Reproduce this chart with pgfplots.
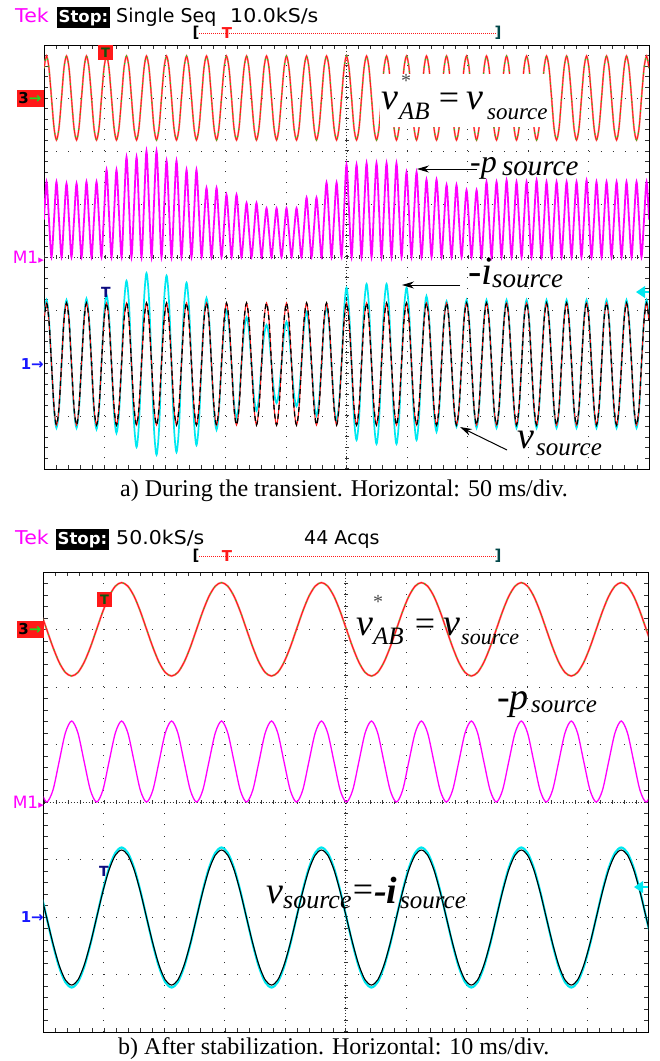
\documentclass[border=0pt]{standalone}
\usepackage{fontspec}
\setmainfont{Liberation Serif}
\newfontfamily\scopefont{DejaVu Sans}
\usepackage{graphicx}
\usepackage{pgfplots}
\pgfplotsset{compat=1.18}
\usepackage{pgfplotstable}
\usetikzlibrary{arrows.meta}

\definecolor{scred}{RGB}{255,25,25}
\definecolor{scpink}{RGB}{255,140,140}
\definecolor{scgreen}{RGB}{30,215,30}
\definecolor{scmag}{RGB}{255,0,255}
\definecolor{sccyan}{RGB}{0,232,240}
\definecolor{scblue}{RGB}{25,25,255}

% top record: t [ms], s = v_AB* = v_source (normalised), i = -i_source, p = -p_source
\pgfplotstableread{
t s i p
0.0 .71 .71 .50
2.1 1 1.00 1.00
4.1 .71 .71 .50
6.2 0 0 0
8.3 -.71 -.71 .50
10.3 -1 -1.00 1.00
12.4 -.71 -.71 .50
14.5 0 0 0
16.5 .71 .71 .49
18.6 1 1.00 .98
20.7 .71 .71 .49
22.7 0 0 0
24.8 -.71 -.71 .49
26.9 -1 -1.00 .98
28.9 -.71 -.71 .49
31.0 0 0 0
33.1 .71 .72 .50
35.1 1 1.02 1.00
37.2 .71 .72 .50
39.3 0 0 0
41.3 -.71 -.72 .50
43.4 -1 -1.02 1.00
45.5 -.71 -.72 .50
47.5 0 0 0
49.6 .71 .77 .58
51.7 1 1.08 1.16
53.7 .71 .77 .58
55.8 0 0 0
57.9 -.71 -.77 .58
59.9 -1 -1.08 1.16
62.0 -.71 -.77 .58
64.1 0 0 0
66.1 .71 .92 .67
68.2 1 1.30 1.33
70.3 .71 .92 .67
72.3 0 0 0
74.4 -.71 -.92 .67
76.5 -1 -1.30 1.33
78.5 -.71 -.92 .67
80.6 0 0 0
82.7 .71 1.01 .71
84.7 1 1.42 1.41
86.8 .71 1.01 .71
88.9 0 0 0
90.9 -.71 -1.01 .71
93.0 -1 -1.42 1.41
95.1 -.71 -1.01 .71
97.1 0 0 0
99.2 .71 .98 .64
101.3 1 1.38 1.28
103.3 .71 .98 .64
105.4 0 0 0
107.4 -.71 -.98 .64
109.5 -1 -1.38 1.28
111.6 -.71 -.98 .64
113.6 0 0 0
115.7 .71 .90 .58
117.8 1 1.27 1.16
119.8 .71 .90 .58
121.9 0 0 0
124.0 -.71 -.90 .58
126.0 -1 -1.27 1.16
128.1 -.71 -.90 .58
130.2 0 0 0
132.2 .71 .73 .46
134.3 1 1.03 .92
136.4 .71 .73 .46
138.4 0 0 0
140.5 -.71 -.73 .46
142.6 -1 -1.03 .92
144.6 -.71 -.73 .46
146.7 0 0 0
148.8 .71 .60 .42
150.8 1 .84 .83
152.9 .71 .60 .42
155.0 0 0 0
157.0 -.71 -.60 .42
159.1 -1 -.84 .83
161.2 -.71 -.60 .42
163.2 0 0 0
165.3 .71 .52 .36
167.4 1 .73 .72
169.4 .71 .52 .36
171.5 0 0 0
173.6 -.71 -.52 .36
175.6 -1 -.73 .72
177.7 -.71 -.52 .36
179.8 0 0 0
181.8 .71 .43 .33
183.9 1 .61 .65
186.0 .71 .43 .33
188.0 0 0 0
190.1 -.71 -.43 .33
192.2 -1 -.61 .65
194.2 -.71 -.43 .33
196.3 0 0 0
198.4 .71 .47 .33
200.4 1 .66 .65
202.5 .71 .47 .33
204.6 0 0 0
206.6 -.71 -.47 .33
208.7 -1 -.66 .65
210.8 -.71 -.47 .33
212.8 0 0 0
214.9 .71 .58 .40
217.0 1 .81 .79
219.0 .71 .58 .40
221.1 0 0 0
223.2 -.71 -.58 .40
225.2 -1 -.81 .79
227.3 -.71 -.58 .40
229.4 0 0 0
231.4 .71 .63 .50
233.5 1 .89 .99
235.6 .71 .63 .50
237.6 0 0 0
239.7 -.71 -.63 .50
241.8 -1 -.89 .99
243.8 -.71 -.63 .50
245.9 0 0 0
248.0 .71 .84 .62
250.0 1 1.19 1.23
252.1 .71 .84 .62
254.2 0 0 0
256.2 -.71 -.84 .62
258.3 -1 -1.19 1.23
260.4 -.71 -.84 .62
262.4 0 0 0
264.5 .71 .89 .63
266.6 1 1.25 1.25
268.6 .71 .89 .63
270.7 0 0 0
272.7 -.71 -.89 .63
274.8 -1 -1.25 1.25
276.9 -.71 -.89 .63
278.9 0 0 0
281.0 .71 .89 .63
283.1 1 1.25 1.25
285.1 .71 .89 .63
287.2 0 0 0
289.3 -.71 -.89 .63
291.3 -1 -1.25 1.25
293.4 -.71 -.89 .63
295.5 0 0 0
297.5 .71 .84 .57
299.6 1 1.19 1.13
301.7 .71 .84 .57
303.7 0 0 0
305.8 -.71 -.84 .57
307.9 -1 -1.19 1.13
309.9 -.71 -.84 .57
312.0 0 0 0
314.1 .71 .75 .52
316.1 1 1.06 1.03
318.2 .71 .75 .52
320.3 0 0 0
322.3 -.71 -.75 .52
324.4 -1 -1.06 1.03
326.5 -.71 -.75 .52
328.5 0 0 0
330.6 .71 .70 .48
332.7 1 .98 .96
334.7 .71 .70 .48
336.8 0 0 0
338.9 -.71 -.70 .48
340.9 -1 -.98 .96
343.0 -.71 -.70 .48
345.1 0 0 0
347.1 .71 .71 .45
349.2 1 1.00 .89
351.3 .71 .71 .45
353.3 0 0 0
355.4 -.71 -.71 .45
357.5 -1 -1.00 .89
359.5 -.71 -.71 .45
361.6 0 0 0
363.7 .71 .71 .50
365.7 1 1.00 1.00
367.8 .71 .71 .50
369.9 0 0 0
371.9 -.71 -.71 .50
374.0 -1 -1.00 1.00
376.1 -.71 -.71 .50
378.1 0 0 0
380.2 .71 .71 .50
382.3 1 1.00 1.02
384.3 .71 .71 .51
386.4 0 0 0
388.5 -.71 -.71 .50
390.5 -1 -1.00 1.00
392.6 -.71 -.71 .50
394.7 0 0 0
396.7 .71 .71 .50
398.8 1 1.00 1.00
400.9 .71 .71 .50
402.9 0 0 0
405.0 -.71 -.71 .51
407.1 -1 -1.00 1.02
409.1 -.71 -.71 .51
411.2 0 0 0
413.3 .71 .71 .50
415.3 1 1.00 1.00
417.4 .71 .71 .50
419.5 0 0 0
421.5 -.71 -.71 .50
423.6 -1 -1.00 1.00
425.7 -.71 -.71 .50
427.7 0 0 0
429.8 .71 .71 .50
431.9 1 1.00 1.00
433.9 .71 .71 .50
436.0 0 0 0
438.0 -.71 -.71 .50
440.1 -1 -1.00 1.00
442.2 -.71 -.71 .50
444.2 0 0 0
446.3 .71 .71 .51
448.4 1 1.00 1.02
450.4 .71 .71 .51
452.5 0 0 0
454.6 -.71 -.71 .50
456.6 -1 -1.00 1.00
458.7 -.71 -.71 .50
460.8 0 0 0
462.8 .71 .71 .50
464.9 1 1.00 1.00
467.0 .71 .71 .50
469.0 0 0 0
471.1 -.71 -.71 .50
473.2 -1 -1.00 1.00
475.2 -.71 -.71 .50
477.3 0 0 0
479.4 .71 .71 .50
481.4 1 1.00 1.00
483.5 .71 .71 .50
485.6 0 0 0
487.6 -.71 -.71 .50
489.7 -1 -1.00 1.00
491.8 -.71 -.71 .50
493.8 0 0 0
495.9 .71 .71 .50
498.0 1 1.00 1.00
500.0 .71 .71 .50
}\toptable

% bottom record: t [ms], v = v_AB* = v_source = -i_source (normalised), p = -p_source
\pgfplotstableread{
t v p
-0.51 .383 .146
0.52 0 0
1.56 -.383 .146
2.59 -.707 .5
3.62 -.924 .854
4.66 -1 1
5.69 -.924 .854
6.72 -.707 .5
7.76 -.383 .146
8.79 0 0
9.82 .383 .146
10.85 .707 .5
11.89 .924 .854
12.92 1 1
13.95 .924 .854
14.99 .707 .5
16.02 .383 .146
17.05 0 0
18.09 -.383 .146
19.12 -.707 .5
20.15 -.924 .854
21.19 -1 1
22.22 -.924 .854
23.25 -.707 .5
24.29 -.383 .146
25.32 0 0
26.35 .383 .146
27.38 .707 .5
28.42 .924 .854
29.45 1 1
30.48 .924 .854
31.52 .707 .5
32.55 .383 .146
33.58 0 0
34.62 -.383 .146
35.65 -.707 .5
36.68 -.924 .854
37.72 -1 1
38.75 -.924 .854
39.78 -.707 .5
40.82 -.383 .146
41.85 0 0
42.88 .383 .146
43.91 .707 .5
44.95 .924 .854
45.98 1 1
47.01 .924 .854
48.05 .707 .5
49.08 .383 .146
50.11 0 0
51.15 -.383 .146
52.18 -.707 .5
53.21 -.924 .854
54.25 -1 1
55.28 -.924 .854
56.31 -.707 .5
57.35 -.383 .146
58.38 0 0
59.41 .383 .146
60.44 .707 .5
61.48 .924 .854
62.51 1 1
63.54 .924 .854
64.58 .707 .5
65.61 .383 .146
66.64 0 0
67.68 -.383 .146
68.71 -.707 .5
69.74 -.924 .854
70.78 -1 1
71.81 -.924 .854
72.84 -.707 .5
73.88 -.383 .146
74.91 0 0
75.94 .383 .146
76.97 .707 .5
78.01 .924 .854
79.04 1 1
80.07 .924 .854
81.11 .707 .5
82.14 .383 .146
83.17 0 0
84.21 -.383 .146
85.24 -.707 .5
86.27 -.924 .854
87.31 -1 1
88.34 -.924 .854
89.37 -.707 .5
90.41 -.383 .146
91.44 0 0
92.47 .383 .146
93.50 .707 .5
94.54 .924 .854
95.57 1 1
96.60 .924 .854
97.64 .707 .5
98.67 .383 .146
99.70 0 0
100.74 -.383 .146
}\bottable

\pgfplotsset{
  scopebase/.style={scale only axis, anchor=south west, clip=true},
  scopegrid/.style={scopebase,
    xmin=0, xmax=10, ymin=-4, ymax=4,
    xtick={0,...,10}, ytick={-4,...,4},
    minor x tick num=4, minor y tick num=4,
    xticklabels={}, yticklabels={},
    tick align=inside, major tick length=4pt, minor tick length=4pt,
    tick style={black!80, line width=0.7pt},
    xmajorgrids, ymajorgrids,
    axis line style={black, line width=1pt}},
  chan/.style={scopebase, hide axis},
}

\newcommand{\hdr}{\scopefont\fontsize{19}{19}\selectfont}
\newcommand{\hdrw}[1]{\scalebox{1.08}[1]{\hdr #1}}
\newcommand{\stopbox}{\scopefont\bfseries\fontsize{16.5}{16.5}\selectfont Stop:}
\newcommand{\labv}{\fontsize{38}{38}\selectfont\itshape}
\newcommand{\labeq}{\fontsize{36}{36}\selectfont\upshape}

\begin{document}
\begin{tikzpicture}[x=1pt,y=1pt]
\useasboundingbox (0,0) rectangle (660,-1061);

%================ TOP PANEL =================
\begin{axis}[scopegrid, at={(44pt,-469pt)}, width=605pt, height=424pt,
  major x grid style={black!80, line width=1pt, dash pattern=on 1pt off 9.6pt},
  major y grid style={black!80, line width=1pt, dash pattern=on 1pt off 11.1pt}]
  \draw[black!80, line width=0.8pt, dash pattern=on 0.8pt off 2.2pt] (axis cs:0,0) -- (axis cs:10,0);
  \draw[black!80, line width=4pt, dash pattern=on 0.9pt off 11.2pt] (axis cs:0,0) -- (axis cs:10,0);
  \draw[black!80, line width=0.8pt, dash pattern=on 0.8pt off 2.2pt] (axis cs:5,-4) -- (axis cs:5,4);
  \draw[black!80, line width=4pt, dash pattern=on 0.9pt off 9.7pt] (axis cs:5,-4) -- (axis cs:5,4);
\end{axis}
% channel 3 : v_AB* (red) with v_source reference (green)
\begin{axis}[chan, at={(44pt,-469pt)}, width=605pt, height=424pt,
  xmin=0, xmax=500, ymin=-8.833, ymax=1.262]
  \addplot[scpink, line width=1.8pt, smooth] table[x=t, y=s] {\toptable};
  \addplot[scred, line width=0.9pt, smooth] table[x=t, y=s] {\toptable};
  \addplot[scgreen, line width=1pt, smooth, dash pattern=on 1.5pt off 6pt] table[x=t, y=s] {\toptable};
\end{axis}
% math : -p_source
\begin{axis}[chan, at={(44pt,-469pt)}, width=605pt, height=424pt,
  xmin=0, xmax=500, ymin=-2.827, ymax=2.827]
  \addplot[scmag, line width=1.8pt, smooth] table[x=t, y=p] {\toptable};
\end{axis}
% -i_source (cyan)
\begin{axis}[chan, at={(44pt,-469pt)}, width=605pt, height=424pt,
  xmin=0, xmax=500, ymin=-1.641, ymax=4.984]
  \addplot[sccyan, line width=1.7pt, smooth] table[x=t, y=i] {\toptable};
\end{axis}
% channel 1 : v_source (black) with v_AB* (red)
\begin{axis}[chan, at={(44pt,-469pt)}, width=605pt, height=424pt,
  xmin=0, xmax=500, ymin=-1.721, ymax=5.230]
  \addplot[scred, line width=1.1pt, smooth] table[x=t, y=s] {\toptable};
  \addplot[black, line width=1.3pt, smooth, dash pattern=on 5pt off 4pt] table[x=t, y=s] {\toptable};
\end{axis}

% header top
\node[anchor=base west, inner sep=0, text=scmag] at (15,-22) {\hdrw{Tek}};
\node[anchor=base west, fill=black, text=white, inner xsep=1.5pt, inner ysep=2.5pt] at (57,-22) {\stopbox};
\node[anchor=base west, inner sep=0] at (116,-22) {\hdr Single Seq};
\node[anchor=base west, inner sep=0] at (230,-22) {\hdrw{10.0kS/s}};
\draw[scred, line width=0.8pt, dash pattern=on 1pt off 1pt] (199,-33) -- (496,-33);
\node[inner sep=0] at (196,-33) {\scopefont\bfseries\fontsize{15}{15}\selectfont [};
\node[inner sep=0, text=scred] at (227,-33) {\scopefont\bfseries\fontsize{15}{15}\selectfont T};
\node[inner sep=0, text=black!70!sccyan] at (498,-33) {\scopefont\bfseries\fontsize{15}{15}\selectfont ]};

% markers top
\node[fill=scred, text=scgreen!40!black, inner sep=0, minimum size=15pt] at (105.5,-52.5) {\scopefont\bfseries\fontsize{13}{13}\selectfont T};
\node[fill=scred, inner sep=0, minimum width=27pt, minimum height=17pt] at (30,-98) {\scopefont\bfseries\fontsize{15}{15}\selectfont 3\textcolor{scgreen}{→}};
\node[anchor=east, inner sep=0, text=scmag] at (44,-257) {\scopefont\fontsize{17}{17}\selectfont M1\fontsize{11}{11}\selectfont▸};
\node[anchor=east, inner sep=0, text=scblue] at (44,-364) {\scopefont\bfseries\fontsize{15}{15}\selectfont 1→};
\node[inner sep=0, text=scblue!50!black] at (106,-292) {\scopefont\bfseries\fontsize{14}{14}\selectfont T};
\fill[sccyan] (636,-292) -- (645,-286) -- (645,-298) -- cycle;
\draw[sccyan, line width=2pt] (644,-292) -- (649,-292);

% labels top (the scope label box hides the trace behind it)
\fill[white] (380,-74) rectangle (549,-127);
\node[anchor=base west, inner sep=0] at (381,-109) {\labv v};
\node[anchor=base west, inner sep=0] at (399,-119) {\fontsize{25}{25}\selectfont\itshape AB};
\node[inner sep=0] at (449,-101) {\labeq =};
\node[anchor=base west, inner sep=0] at (466,-109) {\labv v};
\node[anchor=base west, inner sep=0] at (487,-119) {\fontsize{23}{23}\selectfont\itshape source};
\node[inner sep=0, text=black!70] at (406,-81) {\fontsize{20}{20}\selectfont *};
\node[anchor=base west, inner sep=0] at (470,-172) {\fontsize{32}{32}\selectfont\itshape -p};
\node[anchor=base west, inner sep=0] at (502,-175) {\fontsize{29}{29}\selectfont\itshape source};
\draw[-{Stealth[length=12pt,width=7pt]}, line width=1pt] (477,-169) -- (417,-169);
\node[anchor=base west, inner sep=0] at (468,-284) {\fontsize{40}{40}\selectfont\itshape -i};
\node[anchor=base west, inner sep=0] at (492,-287) {\fontsize{27}{27}\selectfont\itshape source};
\draw[-{Stealth[length=12pt,width=7pt]}, line width=1pt] (460,-285) -- (402,-285);
\node[anchor=base west, inner sep=0] at (517,-448) {\fontsize{38}{38}\selectfont\itshape v};
\node[anchor=base west, inner sep=0] at (536,-455) {\fontsize{25}{25}\selectfont\itshape source};
\draw[-{Stealth[length=12pt,width=7pt]}, line width=1pt] (507,-450) -- (460,-427);

% caption a
\node[anchor=base west, inner sep=0] at (120,-496) {\fontsize{24}{24}\selectfont a) During the transient. Horizontal: 50 ms/div.};

%================ BOTTOM PANEL =================
\begin{axis}[scopegrid, at={(43.5pt,-1032pt)}, width=604.5pt, height=460pt,
  major x grid style={black!80, line width=1pt, dash pattern=on 1pt off 10.5pt},
  major y grid style={black!80, line width=1pt, dash pattern=on 1pt off 11.09pt}]
  \draw[black!80, line width=0.8pt, dash pattern=on 0.8pt off 2.2pt] (axis cs:0,0) -- (axis cs:10,0);
  \draw[black!80, line width=4pt, dash pattern=on 0.9pt off 11.19pt] (axis cs:0,0) -- (axis cs:10,0);
  \draw[black!80, line width=0.8pt, dash pattern=on 0.8pt off 2.2pt] (axis cs:5,-4) -- (axis cs:5,4);
  \draw[black!80, line width=4pt, dash pattern=on 0.9pt off 10.6pt] (axis cs:5,-4) -- (axis cs:5,4);
\end{axis}
\begin{axis}[chan, at={(43.5pt,-1032pt)}, width=604.5pt, height=460pt,
  xmin=0, xmax=100, ymin=-8.623, ymax=1.227]
  \addplot[scpink, line width=2pt, smooth] table[x=t, y=v] {\bottable};
  \addplot[scred, line width=1pt, smooth] table[x=t, y=v] {\bottable};
  \addplot[scgreen, line width=1pt, smooth, dash pattern=on 1pt off 7pt] table[x=t, y=v] {\bottable};
\end{axis}
\begin{axis}[chan, at={(43.5pt,-1032pt)}, width=604.5pt, height=460pt,
  xmin=0, xmax=100, ymin=-2.840, ymax=2.840]
  \addplot[scmag, line width=1.3pt, smooth] table[x=t, y=p] {\bottable};
\end{axis}
\begin{axis}[chan, at={(43.5pt,-1032pt)}, width=604.5pt, height=460pt,
  xmin=0, xmax=100, ymin=-1.636, ymax=4.936]
  \addplot[sccyan, line width=2.2pt, smooth] table[x=t, y=v] {\bottable};
\end{axis}
\begin{axis}[chan, at={(43.5pt,-1032pt)}, width=604.5pt, height=460pt,
  xmin=0, xmax=100, ymin=-1.696, ymax=5.119]
  \addplot[black, line width=1.1pt, smooth] table[x=t, y=v] {\bottable};
\end{axis}

% header bottom
\node[anchor=base west, inner sep=0, text=scmag] at (15,-544) {\hdrw{Tek}};
\node[anchor=base west, fill=black, text=white, inner xsep=1.5pt, inner ysep=2.5pt] at (56,-544) {\stopbox};
\node[anchor=base west, inner sep=0] at (116,-544) {\hdrw{50.0kS/s}};
\node[anchor=base west, inner sep=0] at (304,-544) {\hdr 44 Acqs};
\draw[scred, line width=0.8pt, dash pattern=on 1pt off 1pt] (199,-556) -- (496,-556);
\node[inner sep=0] at (196,-556) {\scopefont\bfseries\fontsize{15}{15}\selectfont [};
\node[inner sep=0, text=scred] at (227,-556) {\scopefont\bfseries\fontsize{15}{15}\selectfont T};
\node[inner sep=0, text=black!70!sccyan] at (498,-556) {\scopefont\bfseries\fontsize{15}{15}\selectfont ]};

% markers bottom
\node[fill=scred, text=scgreen!40!black, inner sep=0, minimum size=15pt] at (104.5,-599.5) {\scopefont\bfseries\fontsize{13}{13}\selectfont T};
\node[fill=scred, inner sep=0, minimum width=27pt, minimum height=17pt] at (30,-629) {\scopefont\bfseries\fontsize{15}{15}\selectfont 3\textcolor{scgreen}{→}};
\node[anchor=east, inner sep=0, text=scmag] at (44,-802) {\scopefont\fontsize{17}{17}\selectfont M1\fontsize{11}{11}\selectfont▸};
\node[anchor=east, inner sep=0, text=scblue] at (44,-917) {\scopefont\bfseries\fontsize{15}{15}\selectfont 1→};
\node[inner sep=0, text=scblue!50!black] at (104,-871) {\scopefont\bfseries\fontsize{14}{14}\selectfont T};
\fill[sccyan] (634,-887) -- (643,-881) -- (643,-893) -- cycle;
\draw[sccyan, line width=2pt] (642,-887) -- (648,-887);

% labels bottom
\node[anchor=base west, inner sep=0] at (356,-635) {\labv v};
\node[anchor=base west, inner sep=0] at (373,-644) {\fontsize{25}{25}\selectfont\itshape AB};
\node[inner sep=0] at (425,-627) {\labeq =};
\node[anchor=base west, inner sep=0] at (443,-635) {\labv v};
\node[anchor=base west, inner sep=0] at (461,-644) {\fontsize{22}{22}\selectfont\itshape source};
\node[inner sep=0, text=black!70] at (378,-602) {\fontsize{20}{20}\selectfont *};
\node[anchor=base west, inner sep=0] at (497,-709) {\fontsize{38}{38}\selectfont\itshape -p};
\node[anchor=base west, inner sep=0] at (531,-712) {\fontsize{25}{25}\selectfont\itshape source};
\node[anchor=base west, inner sep=0] at (266,-903) {\fontsize{38}{38}\selectfont\itshape v};
\node[anchor=base west, inner sep=0] at (283,-908) {\fontsize{26}{26}\selectfont\itshape source};
\node[inner sep=0] at (363,-893) {\labeq =};
\node[anchor=base west, inner sep=0] at (374,-903) {\fontsize{38}{38}\selectfont\itshape\bfseries -i};
\node[anchor=base west, inner sep=0] at (400,-908) {\fontsize{25}{25}\selectfont\itshape source};

% caption b
\node[anchor=base west, inner sep=0] at (118,-1054) {\fontsize{24}{24}\selectfont b) After stabilization. Horizontal: 10 ms/div.};
\end{tikzpicture}
\end{document}
